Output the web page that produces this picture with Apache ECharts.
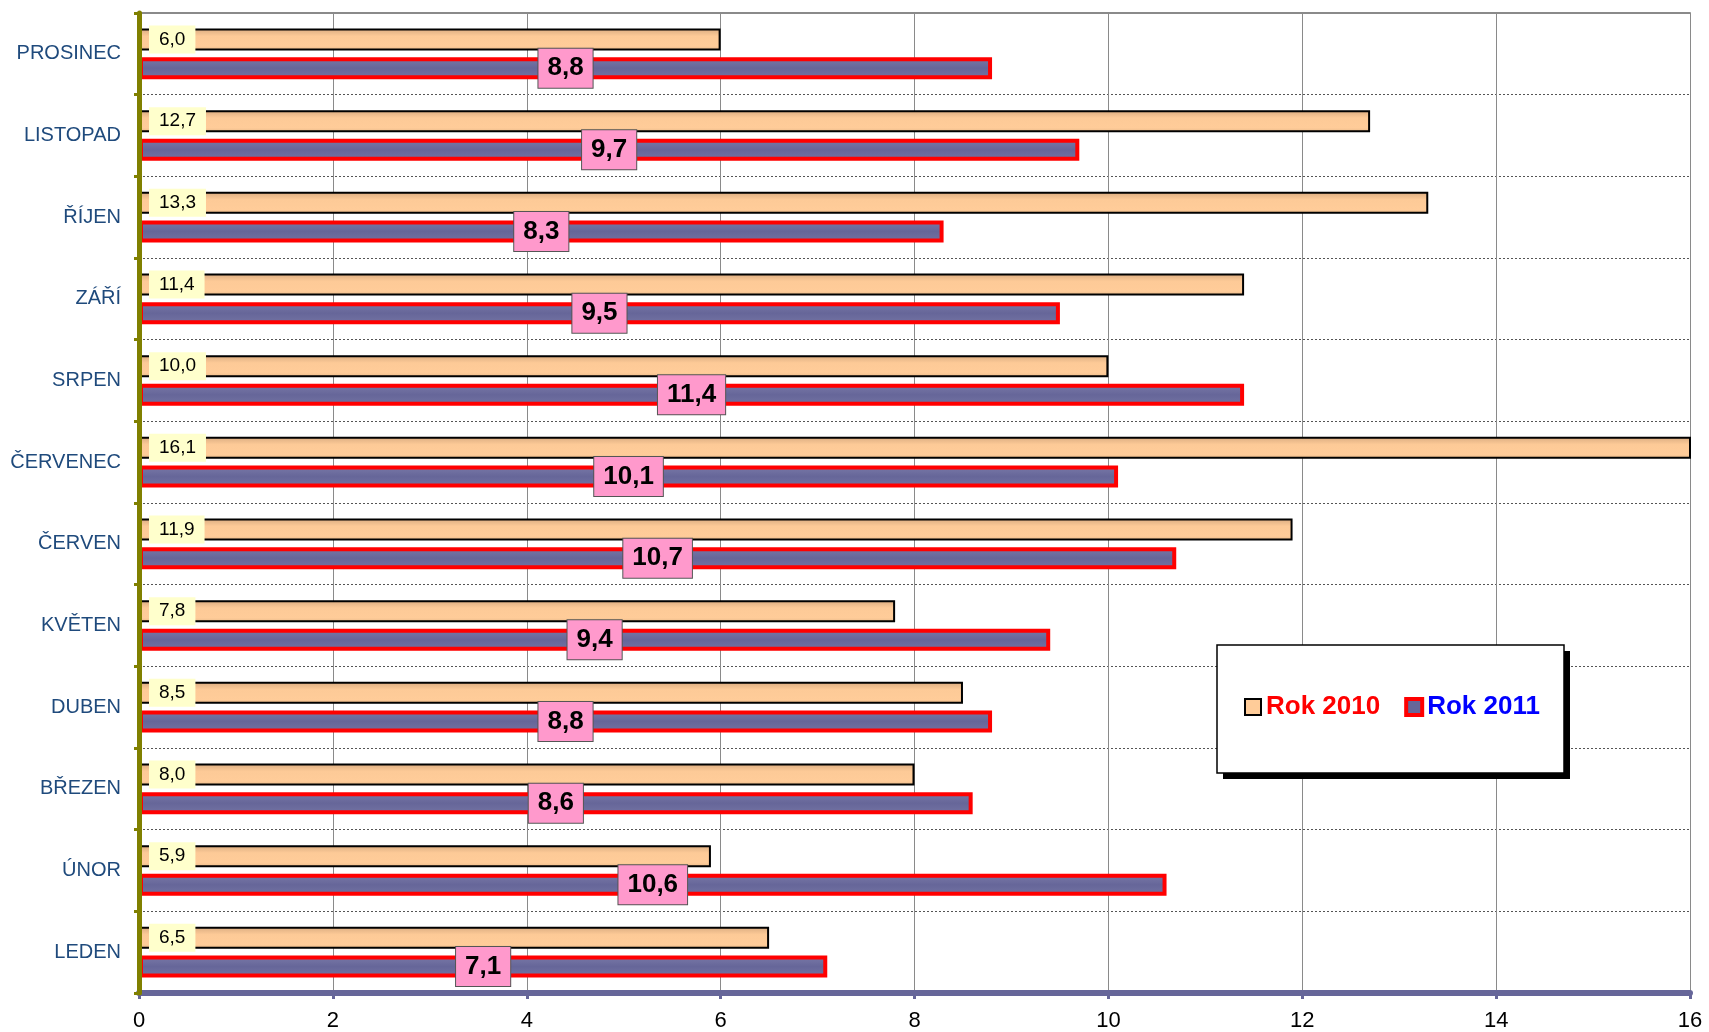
<!DOCTYPE html>
<html>
<head>
<meta charset="utf-8">
<script src="https://cdn.jsdelivr.net/npm/echarts@6/dist/echarts.min.js"></script>
<style>
html,body{margin:0;padding:0;background:#fff;}
#chart{width:1709px;height:1032px;}
</style>
</head>
<body>
<div id="chart"></div>
<script>
const months = ['LEDEN','ÚNOR','BŘEZEN','DUBEN','KVĚTEN','ČERVEN','ČERVENEC','SRPEN','ZÁŘÍ','ŘÍJEN','LISTOPAD','PROSINEC'];
const rok2010 = [6.5, 5.9, 8.0, 8.5, 7.8, 11.9, 16.1, 10.0, 11.4, 13.3, 12.7, 6.0];
const rok2011 = [7.1, 10.6, 8.6, 8.8, 9.4, 10.7, 10.1, 11.4, 9.5, 8.3, 9.7, 8.8];
const seriesNames = ['Rok 2010', 'Rok 2011'];

const fmt = p => p.value.toFixed(1).replace('.', ',');
const chart = echarts.init(document.getElementById('chart'));
chart.setOption({
  animation: false,
  backgroundColor: '#fff',
  grid: { left: 139, right: 19, top: 13, bottom: 39, outerBoundsMode: 'none', containLabel: false },
  graphic: [
    { type: 'rect', z: 10, shape: { x: 1223, y: 651, width: 347, height: 128 }, style: { fill: '#000' } },
    { type: 'rect', z: 11, shape: { x: 1217, y: 645, width: 347, height: 128 }, style: { fill: '#fff', stroke: '#000', lineWidth: 1.5 } }
  ],
  legend: {
    left: 1244, top: 694, orient: 'horizontal', z: 20,
    padding: 0,
    itemWidth: 16, itemHeight: 16, itemGap: 24,
    textStyle: { fontFamily: 'Liberation Sans, Arial, sans-serif', fontSize: 26, fontWeight: 'bold' },
    data: [
      { name: seriesNames[0], icon: 'rect', itemStyle: { color: '#FFCC99', borderColor: '#000', borderWidth: 2 }, textStyle: { color: '#FF0000' } },
      { name: seriesNames[1], icon: 'rect', itemStyle: { color: '#666699', borderColor: '#FF0000', borderWidth: 4 }, textStyle: { color: '#0000FF' } }
    ]
  },
  xAxis: [
    {
      type: 'value', min: 0, max: 16, interval: 2, z: 1,
      axisLine: { show: true, lineStyle: { color: '#666699', width: 6 } },
      axisTick: { show: true, length: 6, lineStyle: { color: '#666699', width: 3 } },
      axisLabel: { color: '#000', fontSize: 22, fontFamily: 'Liberation Sans, Arial, sans-serif', margin: 17 },
      splitLine: { show: true, lineStyle: { color: '#8a8a8a', width: 1 } }
    },
    {
      type: 'value', position: 'top', min: 0, max: 16, interval: 2, z: 1,
      axisLine: { show: true, lineStyle: { color: '#8a8a8a', width: 2 } },
      axisTick: { show: false }, axisLabel: { show: false }, splitLine: { show: false }
    }
  ],
  yAxis: [
    {
      type: 'category', data: months, z: 0,
      axisLine: { show: false },
      axisTick: { show: false },
      axisLabel: { color: '#1f4a7c', fontSize: 20, fontFamily: 'Liberation Sans, Arial, sans-serif', margin: 18 },
      splitLine: { show: true, lineStyle: { color: '#555', width: 1, type: [2, 2] } }
    },
    {
      type: 'category', data: months, z: 3, position: 'left',
      axisLine: { show: true, lineStyle: { color: '#808000', width: 5 } },
      axisTick: { show: true, length: 5, lineStyle: { color: '#808000', width: 3 } },
      axisLabel: { show: false },
      splitLine: { show: false }
    }
  ],
  series: [
    {
      name: seriesNames[0], type: 'bar', data: rok2010, barWidth: 22, barGap: '30%', yAxisIndex: 0,
      itemStyle: {
        borderColor: '#000', borderWidth: 2,
        color: new echarts.graphic.LinearGradient(0, 0, 0, 1, [
          { offset: 0, color: '#d9ab80' }, { offset: 0.35, color: '#fdca97' }, { offset: 0.8, color: '#FFCC99' }, { offset: 1, color: '#e8b989' }
        ])
      },
      label: {
        show: true, position: 'insideLeft', distance: 10, formatter: fmt,
        color: '#000', fontSize: 19, fontFamily: 'Liberation Sans, Arial, sans-serif',
        backgroundColor: '#FFFFCC', padding: [5, 10, 4, 10]
      }
    },
    {
      name: seriesNames[1], type: 'bar', data: rok2011, barWidth: 22, yAxisIndex: 0,
      itemStyle: {
        borderColor: '#FF0000', borderWidth: 4,
        color: new echarts.graphic.LinearGradient(0, 0, 0, 1, [
          { offset: 0, color: '#7a7aa8' }, { offset: 0.5, color: '#666699' }, { offset: 1, color: '#7373a3' }
        ])
      },
      label: {
        show: true, position: 'inside', formatter: fmt,
        color: '#000', fontSize: 26, fontWeight: 'bold', fontFamily: 'Liberation Sans, Arial, sans-serif',
        backgroundColor: '#FF99CC', borderColor: '#555', borderWidth: 1, padding: [6, 9, 6, 9], lineHeight: 27
      }
    }
  ]
});
</script>
</body>
</html>
